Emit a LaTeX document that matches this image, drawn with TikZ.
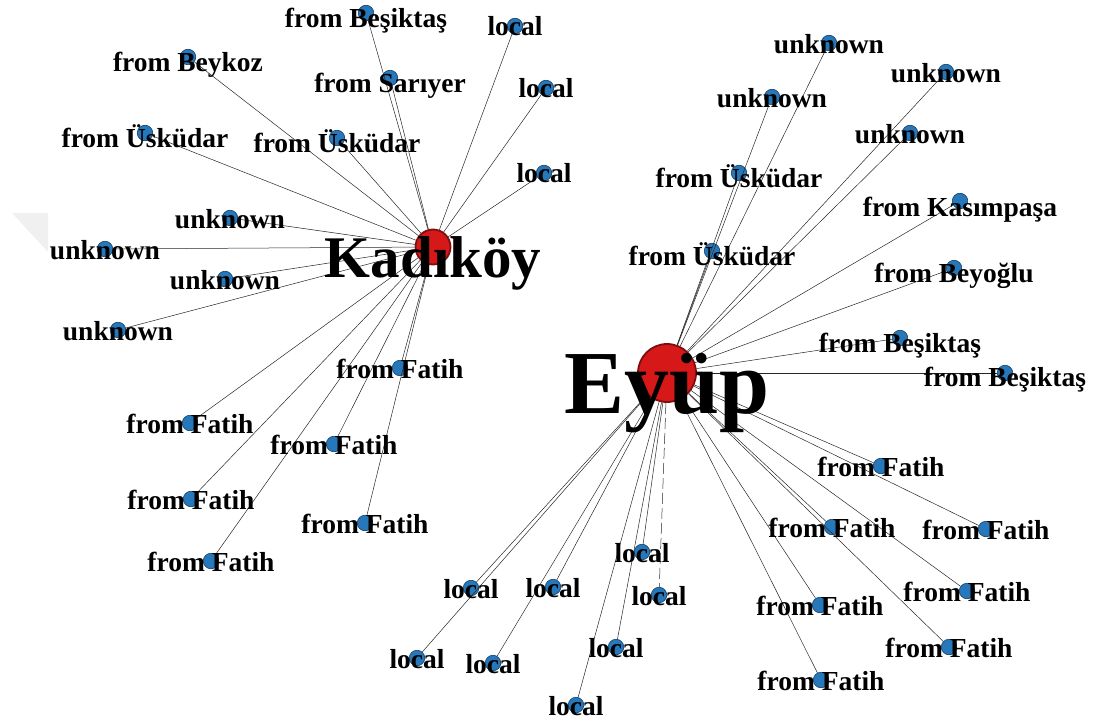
\documentclass[tikz,border=0pt]{standalone}
\usepackage{fontspec}
\setmainfont{Liberation Serif}
\definecolor{dotblue}{RGB}{38,120,186}
\definecolor{dotedge}{RGB}{22,62,100}
\definecolor{hubred}{RGB}{214,24,24}
\definecolor{hubedge}{RGB}{125,15,15}
\begin{document}
\begin{tikzpicture}[x=1pt,y=-1pt,
  dot/.style={circle,fill=dotblue,draw=dotedge,line width=0.6pt,inner sep=0pt,minimum size=15.5pt},
  hub/.style={circle,fill=hubred,draw=hubedge,line width=1.8pt,inner sep=0pt},
  lab/.style={anchor=base,yshift=-10pt,inner sep=0pt,font=\fontsize{27.5}{28}\selectfont\bfseries},
  labu/.style={lab,yshift=-1pt},
  labd/.style={lab,yshift=-4.5pt},
  hublab/.style={anchor=base,inner sep=0pt},
  edge/.style={draw=black!85,line width=0.5pt}]
\useasboundingbox (0,0) rectangle (1093,722);
\fill[gray!12] (12,213) -- (48,213) -- (48,252) -- cycle;
% hubs
\node[hub,minimum size=35pt] (K) at (433,247) {};
\node[hub,minimum size=58pt] (E) at (667,373) {};
% Kadikoy neighbours
\node[dot] (k1) at (366,13) {};
\node[dot] (k2) at (515,26) {};
\node[dot] (k3) at (188,57) {};
\node[dot] (k4) at (390,78) {};
\node[dot] (k5) at (546,88) {};
\node[dot] (k6) at (145,133) {};
\node[dot] (k7) at (337,138) {};
\node[dot] (k8) at (544,173) {};
\node[dot] (k9) at (230,218) {};
\node[dot] (k10) at (105,249) {};
\node[dot] (k11) at (225,279) {};
\node[dot] (k12) at (118,330) {};
\node[dot] (k13) at (400,368) {};
\node[dot] (k14) at (190,423) {};
\node[dot] (k15) at (334,444) {};
\node[dot] (k16) at (191,499) {};
\node[dot] (k17) at (365,523) {};
\node[dot] (k18) at (211,561) {};
% Eyup neighbours
\node[dot] (e1) at (829,43) {};
\node[dot] (e2) at (946,72) {};
\node[dot] (e3) at (772,97) {};
\node[dot] (e4) at (910,133) {};
\node[dot] (e5) at (739,173) {};
\node[dot] (e6) at (960,201) {};
\node[dot] (e7) at (712,251) {};
\node[dot] (e8) at (954,268) {};
\node[dot] (e9) at (900,338) {};
\node[dot] (e10) at (1005,373) {};
\node[dot] (e11) at (881,466) {};
\node[dot] (e12) at (832,527) {};
\node[dot] (e13) at (986,529) {};
\node[dot] (e14) at (967,591) {};
\node[dot] (e15) at (820,605) {};
\node[dot] (e16) at (949,647) {};
\node[dot] (e17) at (821,680) {};
\node[dot] (e18) at (642,552) {};
\node[dot] (e19) at (659,595) {};
\node[dot] (e20) at (616,647) {};
\node[dot] (e21) at (576,705) {};
\node[dot] (e22) at (553,587) {};
\node[dot] (e23) at (471,588) {};
\node[dot] (e24) at (417,658) {};
\node[dot] (e25) at (493,663) {};
% edges
\foreach \i in {1,...,18} \draw[edge] (K) -- (k\i);
\foreach \i in {1,...,18,20,21,22,23,24,25} \draw[edge] (E) -- (e\i);
\draw[edge,dash pattern=on 11pt off 4pt] (E) -- (e19);
% hub labels
\node[hublab,yshift=-31pt,font=\fontsize{59}{60}\selectfont\bfseries] (Kl) at (K) {Kadıköy};
\node[hublab,yshift=-40pt,font=\fontsize{90}{90}\selectfont\bfseries] (El) at (E) {Eyüp};
% labels
\node[labd] (k1l) at (k1) {from Beşiktaş};
\node[lab] (k2l) at (k2) {local};
\node[labd] (k3l) at (k3) {from Beykoz};
\node[labd] (k4l) at (k4) {from Sarıyer};
\node[lab] (k5l) at (k5) {local};
\node[labd] (k6l) at (k6) {from Üsküdar};
\node[labd] (k7l) at (k7) {from Üsküdar};
\node[lab] (k8l) at (k8) {local};
\node[labu] (k9l) at (k9) {unknown};
\node[labu] (k10l) at (k10) {unknown};
\node[labu] (k11l) at (k11) {unknown};
\node[labu] (k12l) at (k12) {unknown};
\node[lab] (k13l) at (k13) {from Fatih};
\node[lab] (k14l) at (k14) {from Fatih};
\node[lab] (k15l) at (k15) {from Fatih};
\node[lab] (k16l) at (k16) {from Fatih};
\node[lab] (k17l) at (k17) {from Fatih};
\node[lab] (k18l) at (k18) {from Fatih};
\node[labu] (e1l) at (e1) {unknown};
\node[labu] (e2l) at (e2) {unknown};
\node[labu] (e3l) at (e3) {unknown};
\node[labu] (e4l) at (e4) {unknown};
\node[labd] (e5l) at (e5) {from Üsküdar};
\node[labd,yshift=-1pt] (e6l) at (e6) {from Kasımpaşa};
\node[labd] (e7l) at (e7) {from Üsküdar};
\node[labd] (e8l) at (e8) {from Beyoğlu};
\node[labd] (e9l) at (e9) {from Beşiktaş};
\node[labd,yshift=1pt] (e10l) at (e10) {from Beşiktaş};
\node[lab] (e11l) at (e11) {from Fatih};
\node[lab] (e12l) at (e12) {from Fatih};
\node[lab] (e13l) at (e13) {from Fatih};
\node[lab] (e14l) at (e14) {from Fatih};
\node[lab] (e15l) at (e15) {from Fatih};
\node[lab] (e16l) at (e16) {from Fatih};
\node[lab] (e17l) at (e17) {from Fatih};
\node[lab] (e18l) at (e18) {local};
\node[lab] (e19l) at (e19) {local};
\node[lab] (e20l) at (e20) {local};
\node[lab] (e21l) at (e21) {local};
\node[lab] (e22l) at (e22) {local};
\node[lab] (e23l) at (e23) {local};
\node[lab] (e24l) at (e24) {local};
\node[lab] (e25l) at (e25) {local};
\end{tikzpicture}
\end{document}
